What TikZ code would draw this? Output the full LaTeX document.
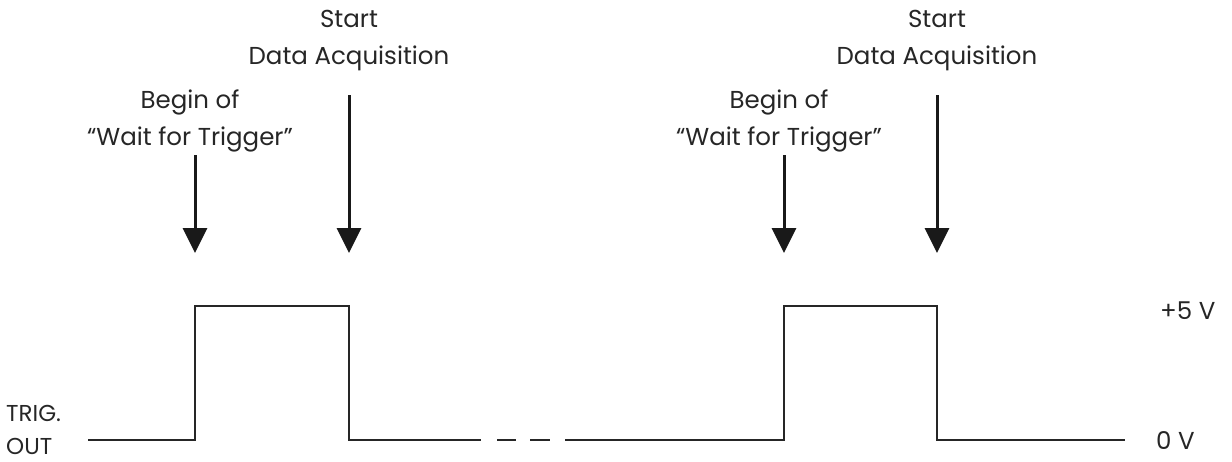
\documentclass[tikz,border=0pt]{standalone}
\usepackage{fontspec}
\setmainfont{Poppins}
\usetikzlibrary{arrows.meta}
\begin{document}
\begin{tikzpicture}[x=1pt,y=-1pt,
  sig/.style={line width=2pt,black!85},
  evarrow/.style={line width=3pt,black!90,-{Triangle[length=25pt,width=24pt]}},
  lbl/.style={font=\fontsize{24.5}{37}\selectfont,align=center,text=black!85,inner sep=0pt},
  brk/.style={line width=2pt,black!85}]
\useasboundingbox (0,0) rectangle (1232,461);
% signal coordinates
\coordinate (p0) at (88,440);
\coordinate (p1) at (195,440);
\coordinate (p2) at (195,306);
\coordinate (p3) at (349,306);
\coordinate (p4) at (349,440);
\coordinate (p5) at (481,440);
\coordinate (d1a) at (497,440);
\coordinate (d1b) at (516,440);
\coordinate (d2a) at (530,440);
\coordinate (d2b) at (550,440);
\coordinate (q0) at (565,440);
\coordinate (q1) at (784,440);
\coordinate (q2) at (784,306);
\coordinate (q3) at (937,306);
\coordinate (q4) at (937,440);
\coordinate (q5) at (1125,440);
\draw[sig] (p0) -- (p1) -- (p2) -- (p3) -- (p4) -- (p5);
\draw[brk] (d1a) -- (d1b);
\draw[brk] (d2a) -- (d2b);
\draw[sig] (q0) -- (q1) -- (q2) -- (q3) -- (q4) -- (q5);
% arrows
\coordinate (a1s) at (195,155); \coordinate (a1e) at (195,253);
\coordinate (a2s) at (349,95);  \coordinate (a2e) at (349,253);
\coordinate (a3s) at (784,155); \coordinate (a3e) at (784,253);
\coordinate (a4s) at (937,95);  \coordinate (a4e) at (937,253);
\draw[evarrow] (a1s) -- (a1e);
\draw[evarrow] (a2s) -- (a2e);
\draw[evarrow] (a3s) -- (a3e);
\draw[evarrow] (a4s) -- (a4e);
% labels
\node[lbl] (t1) at (190,121) {Begin of\\“Wait for Trigger”};
\node[lbl] (t2) at (349,41) {Start\\Data Acquisition};
\node[lbl] (t3) at (779,121) {Begin of\\“Wait for Trigger”};
\node[lbl] (t4) at (937,41) {Start\\Data Acquisition};
\node[lbl,anchor=west] (hi) at (1160,311) {+5 V};
\node[lbl,anchor=west] (lo) at (1156,441) {0 V};
\node[lbl,align=left,anchor=west,font=\fontsize{23}{33}\selectfont] (trig) at (6,430) {TRIG.\\OUT};
\end{tikzpicture}
\end{document}
